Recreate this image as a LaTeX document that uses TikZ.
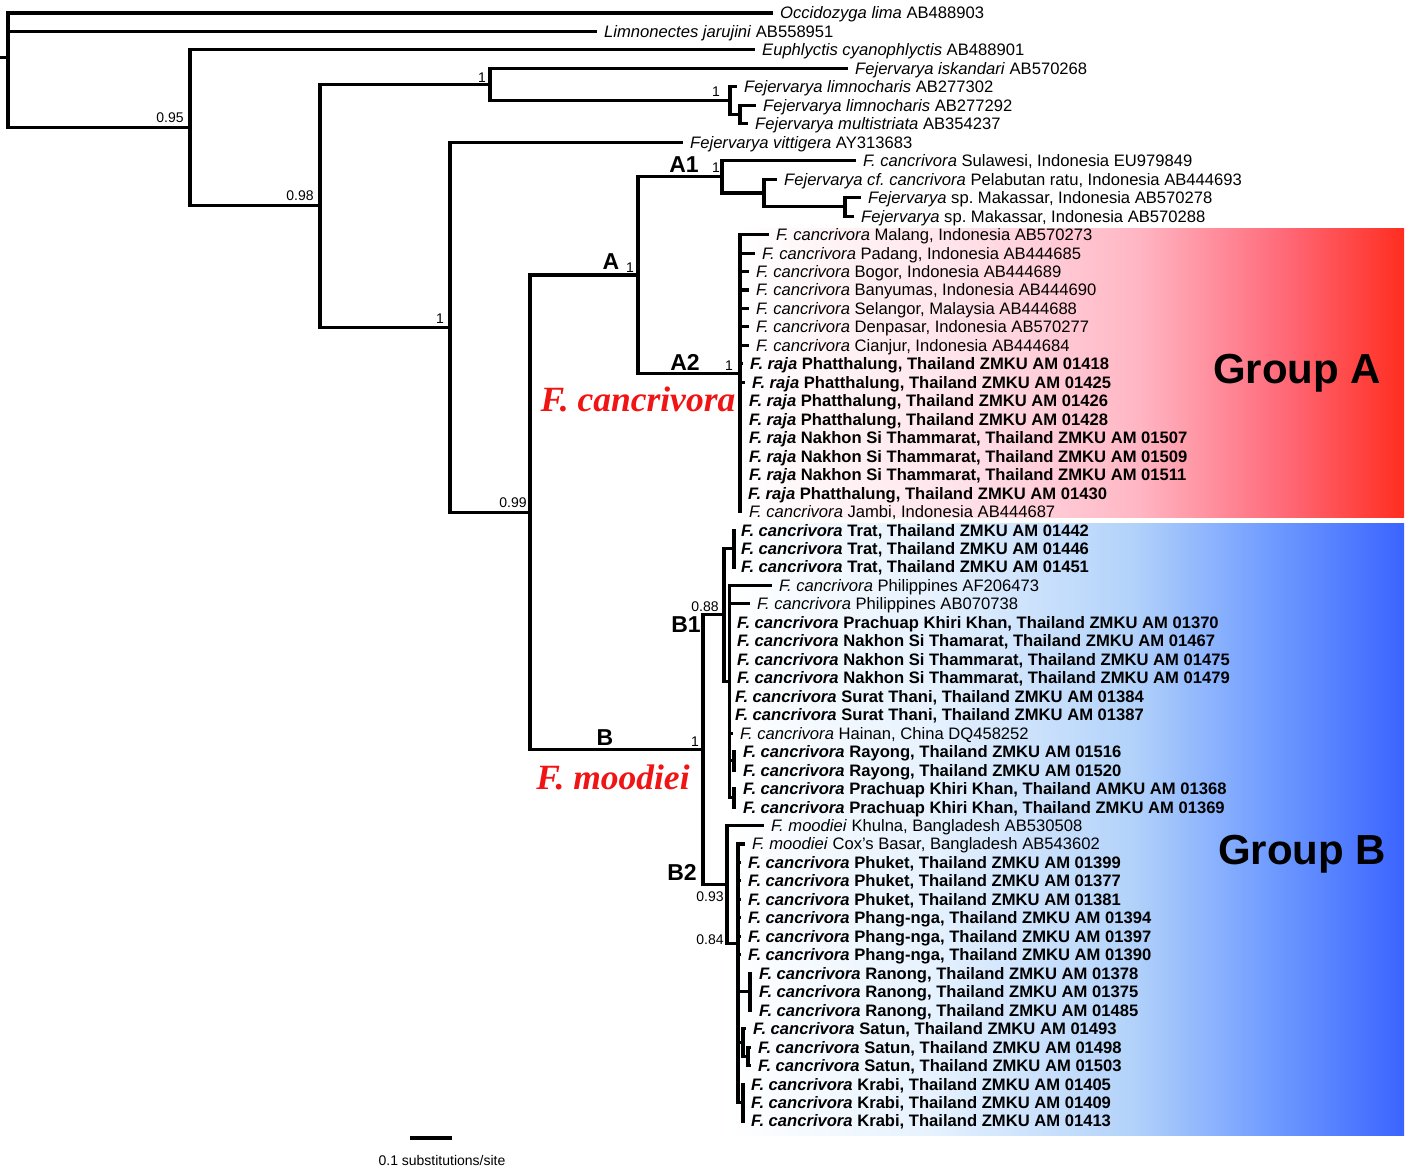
\documentclass[tikz,border=0pt]{standalone}
\usepackage{fontspec}
\setmainfont{Liberation Sans}
\newfontfamily\timesf{Liberation Serif}
\frenchspacing
\definecolor{rA}{RGB}{255,228,235}
\definecolor{rB}{RGB}{255,182,196}
\definecolor{rC}{RGB}{255,105,120}
\definecolor{rD}{RGB}{255,45,32}
\definecolor{bA}{RGB}{230,242,254}
\definecolor{bB}{RGB}{178,210,250}
\definecolor{bC}{RGB}{112,156,255}
\definecolor{bD}{RGB}{58,100,255}
\definecolor{labred}{RGB}{240,20,20}
\pgfdeclarehorizontalshading{redgrad}{100bp}{color(0bp)=(white); color(25bp)=(white); color(41bp)=(rA); color(55bp)=(rB); color(66bp)=(rC); color(75bp)=(rD); color(100bp)=(rD)}
\pgfdeclarehorizontalshading{bluegrad}{100bp}{color(0bp)=(white); color(25bp)=(white); color(40bp)=(bA); color(55bp)=(bB); color(65bp)=(bC); color(75bp)=(bD); color(100bp)=(bD)}
\newcommand{\vln}[3]{\draw[vbr] (#1 |- #2) -- (#1 |- #3);}
\newcommand{\hln}[2]{\draw[br] (#1 |- #2) -- (#2);}
\newcommand{\lfb}[2]{\draw[br] (#1 |- #2.west) -- ([xshift=-7pt]#2.west);}
\begin{document}
\begin{tikzpicture}[x=1pt,y=-1pt,
  br/.style={line width=3.1pt,line cap=butt},
  vbr/.style={line width=3.1pt,line cap=rect},
  leaf/.style={anchor=west,inner sep=0pt,text height=11.9pt,text depth=0pt,font=\fontsize{16.6}{18}\selectfont},
  bleaf/.style={leaf,font=\fontsize{16.6}{18}\selectfont\bfseries},
  supp/.style={anchor=center,inner sep=0pt,text height=10pt,text depth=0pt,font=\fontsize{14}{15}\selectfont},
  clade/.style={anchor=center,inner sep=0pt,text height=16.5pt,text depth=0pt,font=\fontsize{23}{25}\selectfont\bfseries},
  grp/.style={anchor=center,inner sep=0pt,text height=30pt,text depth=0pt,font=\fontsize{42}{44}\selectfont\bfseries},
  redlbl/.style={anchor=center,inner sep=0pt,text height=23pt,text depth=0pt,text=labred,font=\fontsize{35.5}{37}\timesf\bfseries\itshape}]
\useasboundingbox (0,0) rectangle (1406,1167);
% group backgrounds
\shade[shading=redgrad] (738,228) rectangle (1404,517);
\shade[shading=bluegrad] (728,523) rectangle (1404,1135);
% leaves
\node[leaf] (l0) at (780,13.0) {\textit{Occidozyga lima} AB488903};
\node[leaf] (l1) at (604,31.5) {\textit{Limnonectes jarujini} AB558951};
\node[leaf] (l2) at (762,49.9) {\textit{Euphlyctis cyanophlyctis} AB488901};
\node[leaf] (l3) at (855,68.4) {\textit{Fejervarya iskandari} AB570268};
\node[leaf] (l4) at (744,86.9) {\textit{Fejervarya limnocharis} AB277302};
\node[leaf] (l5) at (763,105.3) {\textit{Fejervarya limnocharis} AB277292};
\node[leaf] (l6) at (755,123.8) {\textit{Fejervarya multistriata} AB354237};
\node[leaf] (l7) at (690,142.3) {\textit{Fejervarya vittigera} AY313683};
\node[leaf] (l8) at (863,160.7) {\textit{F. cancrivora} Sulawesi, Indonesia EU979849};
\node[leaf] (l9) at (784,179.2) {\textit{Fejervarya cf. cancrivora} Pelabutan ratu, Indonesia AB444693};
\node[leaf] (l10) at (868,197.7) {\textit{Fejervarya} sp. Makassar, Indonesia AB570278};
\node[leaf] (l11) at (861,216.1) {\textit{Fejervarya} sp. Makassar, Indonesia AB570288};
\node[leaf] (l12) at (776,234.6) {\textit{F. cancrivora} Malang, Indonesia AB570273};
\node[leaf] (l13) at (762,253.1) {\textit{F. cancrivora} Padang, Indonesia AB444685};
\node[leaf] (l14) at (756,271.5) {\textit{F. cancrivora} Bogor, Indonesia AB444689};
\node[leaf] (l15) at (756,290.0) {\textit{F. cancrivora} Banyumas, Indonesia AB444690};
\node[leaf] (l16) at (756,308.5) {\textit{F. cancrivora} Selangor, Malaysia AB444688};
\node[leaf] (l17) at (756,326.9) {\textit{F. cancrivora} Denpasar, Indonesia AB570277};
\node[leaf] (l18) at (756,345.4) {\textit{F. cancrivora} Cianjur, Indonesia AB444684};
\node[bleaf] (l19) at (750,363.9) {\textit{F. raja} Phatthalung, Thailand ZMKU AM 01418};
\node[bleaf] (l20) at (752,382.3) {\textit{F. raja} Phatthalung, Thailand ZMKU AM 01425};
\node[bleaf] (l21) at (749,400.8) {\textit{F. raja} Phatthalung, Thailand ZMKU AM 01426};
\node[bleaf] (l22) at (749,419.3) {\textit{F. raja} Phatthalung, Thailand ZMKU AM 01428};
\node[bleaf] (l23) at (749,437.7) {\textit{F. raja} Nakhon Si Thammarat, Thailand ZMKU AM 01507};
\node[bleaf] (l24) at (749,456.2) {\textit{F. raja} Nakhon Si Thammarat, Thailand ZMKU AM 01509};
\node[bleaf] (l25) at (749,474.7) {\textit{F. raja} Nakhon Si Thammarat, Thailand ZMKU AM 01511};
\node[bleaf] (l26) at (748,493.1) {\textit{F. raja} Phatthalung, Thailand ZMKU AM 01430};
\node[leaf] (l27) at (749,511.6) {\textit{F. cancrivora} Jambi, Indonesia AB444687};
\node[bleaf] (l28) at (741,530.1) {\textit{F. cancrivora} Trat, Thailand ZMKU AM 01442};
\node[bleaf] (l29) at (741,548.5) {\textit{F. cancrivora} Trat, Thailand ZMKU AM 01446};
\node[bleaf] (l30) at (741,567.0) {\textit{F. cancrivora} Trat, Thailand ZMKU AM 01451};
\node[leaf] (l31) at (779,585.5) {\textit{F. cancrivora} Philippines AF206473};
\node[leaf] (l32) at (757,603.9) {\textit{F. cancrivora} Philippines AB070738};
\node[bleaf] (l33) at (737,622.4) {\textit{F. cancrivora} Prachuap Khiri Khan, Thailand ZMKU AM 01370};
\node[bleaf] (l34) at (737,640.9) {\textit{F. cancrivora} Nakhon Si Thamarat, Thailand ZMKU AM 01467};
\node[bleaf] (l35) at (737,659.3) {\textit{F. cancrivora} Nakhon Si Thammarat, Thailand ZMKU AM 01475};
\node[bleaf] (l36) at (737,677.8) {\textit{F. cancrivora} Nakhon Si Thammarat, Thailand ZMKU AM 01479};
\node[bleaf] (l37) at (735,696.3) {\textit{F. cancrivora} Surat Thani, Thailand ZMKU AM 01384};
\node[bleaf] (l38) at (735,714.7) {\textit{F. cancrivora} Surat Thani, Thailand ZMKU AM 01387};
\node[leaf] (l39) at (740,733.2) {\textit{F. cancrivora} Hainan, China DQ458252};
\node[bleaf] (l40) at (743,751.7) {\textit{F. cancrivora} Rayong, Thailand ZMKU AM 01516};
\node[bleaf] (l41) at (743,770.1) {\textit{F. cancrivora} Rayong, Thailand ZMKU AM 01520};
\node[bleaf] (l42) at (743,788.6) {\textit{F. cancrivora} Prachuap Khiri Khan, Thailand AMKU AM 01368};
\node[bleaf] (l43) at (743,807.1) {\textit{F. cancrivora} Prachuap Khiri Khan, Thailand ZMKU AM 01369};
\node[leaf] (l44) at (771,825.5) {\textit{F. moodiei} Khulna, Bangladesh AB530508};
\node[leaf] (l45) at (752,844.0) {\textit{F. moodiei} Cox's Basar, Bangladesh AB543602};
\node[bleaf] (l46) at (748,862.5) {\textit{F. cancrivora} Phuket, Thailand ZMKU AM 01399};
\node[bleaf] (l47) at (748,880.9) {\textit{F. cancrivora} Phuket, Thailand ZMKU AM 01377};
\node[bleaf] (l48) at (748,899.4) {\textit{F. cancrivora} Phuket, Thailand ZMKU AM 01381};
\node[bleaf] (l49) at (748,917.9) {\textit{F. cancrivora} Phang-nga, Thailand ZMKU AM 01394};
\node[bleaf] (l50) at (748,936.3) {\textit{F. cancrivora} Phang-nga, Thailand ZMKU AM 01397};
\node[bleaf] (l51) at (748,954.8) {\textit{F. cancrivora} Phang-nga, Thailand ZMKU AM 01390};
\node[bleaf] (l52) at (759,973.3) {\textit{F. cancrivora} Ranong, Thailand ZMKU AM 01378};
\node[bleaf] (l53) at (759,991.7) {\textit{F. cancrivora} Ranong, Thailand ZMKU AM 01375};
\node[bleaf] (l54) at (759,1010.2) {\textit{F. cancrivora} Ranong, Thailand ZMKU AM 01485};
\node[bleaf] (l55) at (753,1028.7) {\textit{F. cancrivora} Satun, Thailand ZMKU AM 01493};
\node[bleaf] (l56) at (758,1047.1) {\textit{F. cancrivora} Satun, Thailand ZMKU AM 01498};
\node[bleaf] (l57) at (758,1065.6) {\textit{F. cancrivora} Satun, Thailand ZMKU AM 01503};
\node[bleaf] (l58) at (751,1084.1) {\textit{F. cancrivora} Krabi, Thailand ZMKU AM 01405};
\node[bleaf] (l59) at (751,1102.5) {\textit{F. cancrivora} Krabi, Thailand ZMKU AM 01409};
\node[bleaf] (l60) at (751,1121.0) {\textit{F. cancrivora} Krabi, Thailand ZMKU AM 01413};
% internal nodes
\coordinate (rst) at (0,57.5);
\coordinate (nR) at (8,57.5);
\coordinate (n95) at (190,127.9);
\coordinate (n98) at (320,205.9);
\coordinate (n1a) at (490,84.5);
\coordinate (n1b) at (730,100.7);
\coordinate (n1c) at (740,114.6);
\coordinate (n1d) at (450,327.3);
\coordinate (n99) at (530,512.3);
\coordinate (nA) at (638,275.0);
\coordinate (nA1) at (722,176.9);
\coordinate (nA1b) at (764,193.0);
\coordinate (nA1c) at (845,206.9);
\coordinate (nA2) at (740,373.1);
\coordinate (nB) at (703,749.6);
\coordinate (nB1) at (724,614.9);
\coordinate (nTr) at (734,548.5);
\coordinate (nP) at (729.5,681.2);
\coordinate (nRy) at (734,760.9);
\coordinate (nPr) at (734,797.8);
\coordinate (nB2) at (727,884.4);
\coordinate (nQ) at (738,943.2);
\coordinate (nRn) at (750,991.7);
\coordinate (nS1) at (743,1042.5);
\coordinate (nS2) at (748,1056.4);
\coordinate (nKr) at (743,1102.5);
% branches
\draw[br] (rst) -- (nR);
\vln{nR}{l0.west}{n95} \lfb{nR}{l0} \lfb{nR}{l1} \hln{nR}{n95}
\vln{n95}{l2.west}{n98} \lfb{n95}{l2} \hln{n95}{n98}
\vln{n98}{n1a}{n1d} \hln{n98}{n1a} \hln{n98}{n1d}
\vln{n1a}{l3.west}{n1b} \lfb{n1a}{l3} \hln{n1a}{n1b}
\vln{n1b}{l4.west}{n1c} \lfb{n1b}{l4} \hln{n1b}{n1c}
\vln{n1c}{l5.west}{l6.west} \lfb{n1c}{l5} \lfb{n1c}{l6}
\vln{n1d}{l7.west}{n99} \lfb{n1d}{l7} \hln{n1d}{n99}
\vln{n99}{nA}{nB} \hln{n99}{nA} \hln{n99}{nB}
\vln{nA}{nA1}{nA2} \hln{nA}{nA1} \hln{nA}{nA2}
\vln{nA1}{l8.west}{nA1b} \lfb{nA1}{l8} \hln{nA1}{nA1b}
\vln{nA1b}{l9.west}{nA1c} \lfb{nA1b}{l9} \hln{nA1b}{nA1c}
\vln{nA1c}{l10.west}{l11.west} \lfb{nA1c}{l10} \lfb{nA1c}{l11}
\vln{nA2}{l12.west}{l27.west}
\foreach \i in {12,...,27} {\lfb{nA2}{l\i}}
\vln{nB}{nB1}{nB2} \hln{nB}{nB1} \hln{nB}{nB2}
\vln{nB1}{nTr}{nP} \hln{nB1}{nTr} \hln{nB1}{nP}
\vln{nTr}{l28.west}{l30.west}
\foreach \i in {28,29,30} {\lfb{nTr}{l\i}}
\vln{nP}{l31.west}{nPr}
\foreach \i in {31,...,39} {\lfb{nP}{l\i}}
\hln{nP}{nRy} \hln{nP}{nPr}
\vln{nRy}{l40.west}{l41.west} \lfb{nRy}{l40} \lfb{nRy}{l41}
\vln{nPr}{l42.west}{l43.west} \lfb{nPr}{l42} \lfb{nPr}{l43}
\vln{nB2}{l44.west}{nQ} \lfb{nB2}{l44} \hln{nB2}{nQ}
\vln{nQ}{l45.west}{nKr}
\foreach \i in {45,...,51} {\lfb{nQ}{l\i}}
\hln{nQ}{nRn} \hln{nQ}{nS1} \hln{nQ}{nKr}
\vln{nRn}{l52.west}{l54.west}
\foreach \i in {52,53,54} {\lfb{nRn}{l\i}}
\vln{nS1}{l55.west}{nS2} \lfb{nS1}{l55} \hln{nS1}{nS2}
\vln{nS2}{l56.west}{l57.west} \lfb{nS2}{l56} \lfb{nS2}{l57}
\vln{nKr}{l58.west}{l60.west}
\foreach \i in {58,59,60} {\lfb{nKr}{l\i}}
% support values
\node[supp] (s95) at (170,117) {0.95};
\node[supp] (s98) at (300,195) {0.98};
\node[supp] (s1a) at (482,77) {1};
\node[supp] (s1b) at (716,91) {1};
\node[supp] (s1d) at (440,318) {1};
\node[supp] (s99) at (513,502) {0.99};
\node[supp] (sA) at (630,267) {1};
\node[supp] (sA1) at (716,167) {1};
\node[supp] (sA2) at (729,365) {1};
\node[supp] (sB) at (695,741) {1};
\node[supp] (sB1) at (705,606) {0.88};
\node[supp] (sB2) at (710,896) {0.93};
\node[supp] (sQ) at (710,939) {0.84};
% clade labels
\node[clade] (cA) at (611,261) {A};
\node[clade] (cA1) at (684,164) {A1};
\node[clade] (cA2) at (685,362) {A2};
\node[clade] (cB) at (605,737) {B};
\node[clade] (cB1) at (686,624) {B1};
\node[clade] (cB2) at (682,872) {B2};
% species labels
\node[redlbl] (fc) at (638,400) {F. cancrivora};
\node[redlbl] (fm) at (613,778) {F. moodiei};
% group labels
\node[grp] (gA) at (1297,368) {Group A};
\node[grp] (gB) at (1302,849) {Group B};
% scale bar
\coordinate (sb1) at (410,1138);
\coordinate (sb2) at (452,1138);
\draw[line width=3.6pt] (sb1) -- (sb2);
\node[supp] (sbt) at (442,1160) {0.1 substitutions/site};
\end{tikzpicture}
\end{document}
